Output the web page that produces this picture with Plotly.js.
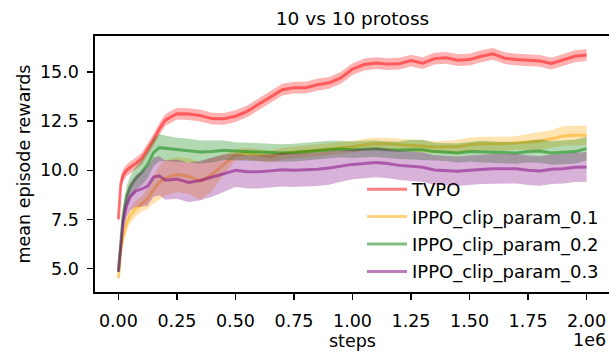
<!DOCTYPE html>
<html>
<head>
<meta charset="utf-8">
<script src="https://cdn.plot.ly/plotly-3.0.1.min.js"></script>
<style>
html,body{margin:0;padding:0;overflow:hidden;background:#fff;width:609px;height:353px;}
#chart{width:611px;height:353px;}
</style>
</head>
<body>
<div id="chart"></div>
<script>
// x positions in millions of steps
var steps = [0, 0.01, 0.02, 0.035, 0.05, 0.075, 0.1, 0.125, 0.15, 0.175, 0.2, 0.25, 0.3, 0.35, 0.4, 0.45, 0.5, 0.55, 0.6, 0.65, 0.7, 0.75, 0.8, 0.85, 0.9, 0.95, 1.0, 1.05, 1.1, 1.15, 1.2, 1.25, 1.3, 1.35, 1.4, 1.45, 1.5, 1.55, 1.6, 1.65, 1.7, 1.75, 1.8, 1.85, 1.9, 1.95, 2.0];

var tvpo = [7.5, 9.3, 9.75, 10.0, 10.15, 10.35, 10.6, 11.05, 11.55, 12.1, 12.55, 12.88, 12.86, 12.78, 12.63, 12.62, 12.75, 13.0, 13.35, 13.73, 14.1, 14.2, 14.2, 14.35, 14.45, 14.7, 15.15, 15.38, 15.45, 15.4, 15.42, 15.58, 15.45, 15.68, 15.72, 15.6, 15.63, 15.8, 15.92, 15.7, 15.63, 15.58, 15.56, 15.43, 15.63, 15.8, 15.86];
var tvpo_band = [0.3, 0.3, 0.3, 0.3, 0.3, 0.3, 0.3, 0.3, 0.3, 0.3, 0.3, 0.3, 0.3, 0.3, 0.3, 0.3, 0.3, 0.3, 0.3, 0.3, 0.3, 0.3, 0.3, 0.3, 0.3, 0.3, 0.3, 0.3, 0.3, 0.3, 0.3, 0.3, 0.3, 0.3, 0.3, 0.3, 0.3, 0.3, 0.3, 0.3, 0.3, 0.3, 0.3, 0.3, 0.3, 0.3, 0.3];

var clip01 = [4.5, 5.9, 6.6, 7.3, 7.7, 8.05, 8.3, 8.55, 9.0, 9.38, 9.62, 9.78, 9.7, 9.45, 9.8, 10.3, 10.78, 10.85, 10.78, 10.7, 10.85, 10.9, 10.95, 11.0, 11.08, 11.15, 11.2, 11.3, 11.35, 11.35, 11.3, 11.27, 11.22, 11.18, 11.2, 11.2, 11.3, 11.35, 11.35, 11.35, 11.4, 11.45, 11.48, 11.6, 11.75, 11.78, 11.78];
var clip01_band = [0.15, 0.3, 0.35, 0.4, 0.4, 0.4, 0.4, 0.5, 0.7, 0.85, 0.9, 0.9, 0.9, 0.95, 0.85, 0.5, 0.3, 0.3, 0.3, 0.3, 0.3, 0.3, 0.3, 0.3, 0.3, 0.3, 0.3, 0.3, 0.3, 0.3, 0.3, 0.3, 0.3, 0.3, 0.3, 0.35, 0.35, 0.35, 0.35, 0.35, 0.35, 0.4, 0.45, 0.45, 0.5, 0.5, 0.5];

var clip02 = [4.84, 6.5, 7.7, 8.7, 9.15, 9.6, 9.9, 10.3, 10.9, 11.15, 11.12, 11.05, 11.0, 10.93, 10.95, 11.02, 10.98, 10.95, 10.92, 10.9, 10.88, 10.9, 10.95, 10.98, 11.05, 11.08, 11.05, 11.08, 11.1, 11.05, 11.02, 11.05, 11.05, 10.95, 10.92, 10.88, 10.95, 10.95, 10.92, 10.9, 10.88, 10.95, 10.98, 10.88, 10.9, 10.95, 11.1];
var clip02_band = [0.1, 0.3, 0.4, 0.5, 0.55, 0.6, 0.65, 0.7, 0.7, 0.7, 0.65, 0.6, 0.6, 0.58, 0.55, 0.5, 0.45, 0.45, 0.45, 0.45, 0.45, 0.45, 0.45, 0.45, 0.45, 0.42, 0.42, 0.42, 0.42, 0.42, 0.45, 0.5, 0.5, 0.45, 0.45, 0.5, 0.5, 0.55, 0.55, 0.55, 0.55, 0.55, 0.6, 0.6, 0.6, 0.6, 0.6];

var clip03 = [4.84, 6.3, 7.4, 8.2, 8.65, 8.95, 9.05, 9.2, 9.65, 9.72, 9.5, 9.55, 9.38, 9.48, 9.65, 9.85, 10.0, 9.92, 9.92, 9.97, 10.03, 10.0, 10.02, 10.05, 10.12, 10.22, 10.3, 10.34, 10.4, 10.35, 10.25, 10.2, 10.15, 10.02, 10.0, 9.95, 10.0, 10.05, 10.08, 10.08, 10.08, 10.0, 9.96, 10.05, 10.08, 10.15, 10.17];
var clip03_band = [0.1, 0.4, 0.5, 0.6, 0.7, 0.8, 0.9, 1.0, 1.0, 1.0, 1.0, 1.0, 1.0, 1.0, 1.0, 0.95, 0.85, 0.85, 0.85, 0.85, 0.85, 0.85, 0.85, 0.85, 0.85, 0.8, 0.75, 0.75, 0.75, 0.75, 0.75, 0.75, 0.75, 0.75, 0.75, 0.75, 0.75, 0.75, 0.75, 0.75, 0.75, 0.75, 0.75, 0.75, 0.75, 0.75, 0.75];

var seriesNames = ["TVPO", "IPPO_clip_param_0.1", "IPPO_clip_param_0.2", "IPPO_clip_param_0.3"];
var xTickVals = [0, 250000, 500000, 750000, 1000000, 1250000, 1500000, 1750000, 2000000];
var xTickText = ["0.00", "0.25", "0.50", "0.75", "1.00", "1.25", "1.50", "1.75", "2.00"];
var yTickVals = [5, 7.5, 10, 12.5, 15];
var yTickText = ["5.0", "7.5", "10.0", "12.5", "15.0"];

var FONT = "DejaVu Sans, sans-serif";
var FS = 17.5;

var series = [
  {name: seriesNames[0], y: tvpo, band: tvpo_band, rgb: "255,0,0"},
  {name: seriesNames[1], y: clip01, band: clip01_band, rgb: "255,165,0"},
  {name: seriesNames[2], y: clip02, band: clip02_band, rgb: "0,128,0"},
  {name: seriesNames[3], y: clip03, band: clip03_band, rgb: "128,0,128"}
];

var xs = steps.map(function(s){ return s * 1e6; });
var traces = [];
series.forEach(function(s, i){
  var hi = s.y.map(function(v, k){ return v + s.band[k]; });
  var lo = s.y.map(function(v, k){ return v - s.band[k]; });
  traces.push({
    x: xs.concat(xs.slice().reverse()),
    y: hi.concat(lo.slice().reverse()),
    type: "scatter", mode: "lines", fill: "toself",
    fillcolor: "rgba(" + s.rgb + ",0.3)",
    line: {width: 0, color: "rgba(0,0,0,0)"},
    showlegend: false, hoverinfo: "skip"
  });
  traces.push({
    x: xs, y: s.y, name: s.name,
    type: "scatter", mode: "lines",
    line: {width: 3, color: "rgba(" + s.rgb + ",0.5)"},
    legendgroup: "g" + i
  });
});

var layout = {
  width: 611, height: 353,
  margin: {l: 95, r: 1, t: 36, b: 61},
  paper_bgcolor: "#fff", plot_bgcolor: "#fff",
  font: {family: FONT, size: FS, color: "#000"},
  showlegend: true,
  title: {text: "10 vs 10 protoss", font: {family: FONT, size: 18.5, color: "#000"},
          x: 0.5, xref: "paper", xanchor: "center", y: 1 - 18.5/353, yref: "container", yanchor: "middle"},
  xaxis: {
    range: [-100000, 2100000],
    tickmode: "array", tickvals: xTickVals, ticktext: xTickText,
    ticks: "outside", ticklen: 6, tickwidth: 1.5, tickcolor: "#000",
    ticklabelstandoff: 6,
    showline: true, linecolor: "#000", linewidth: 1.6, mirror: true,
    showgrid: false, zeroline: false,
    tickfont: {family: FONT, size: FS, color: "#000"},
    title: {text: "steps", font: {family: FONT, size: FS, color: "#000"}, standoff: 2}
  },
  yaxis: {
    range: [3.81, 16.83],
    tickmode: "array", tickvals: yTickVals, ticktext: yTickText,
    ticks: "outside", ticklen: 6, tickwidth: 1.5, tickcolor: "#000",
    ticklabelstandoff: 5,
    showline: true, linecolor: "#000", linewidth: 1.6, mirror: true,
    showgrid: false, zeroline: false,
    tickfont: {family: FONT, size: FS, color: "#000"},
    title: {text: "mean episode rewards", font: {family: FONT, size: FS, color: "#000"}, standoff: 5}
  },
  legend: {
    x: (362 - 95) / 515, xanchor: "left", y: 1 - (171 - 36) / 256, yanchor: "top",
    bgcolor: "rgba(0,0,0,0)", borderwidth: 0,
    font: {family: FONT, size: 18, color: "#000"},
    itemwidth: 40,
    tracegroupgap: 1
  },
  annotations: [{
    text: "1e6", xref: "paper", yref: "paper", x: 1, y: 0,
    xanchor: "right", yanchor: "middle", showarrow: false,
    xshift: -2, yshift: -48,
    font: {family: FONT, size: FS, color: "#000"}
  }]
};

Plotly.newPlot("chart", traces, layout, {displayModeBar: false, staticPlot: true});
</script>
</body>
</html>
